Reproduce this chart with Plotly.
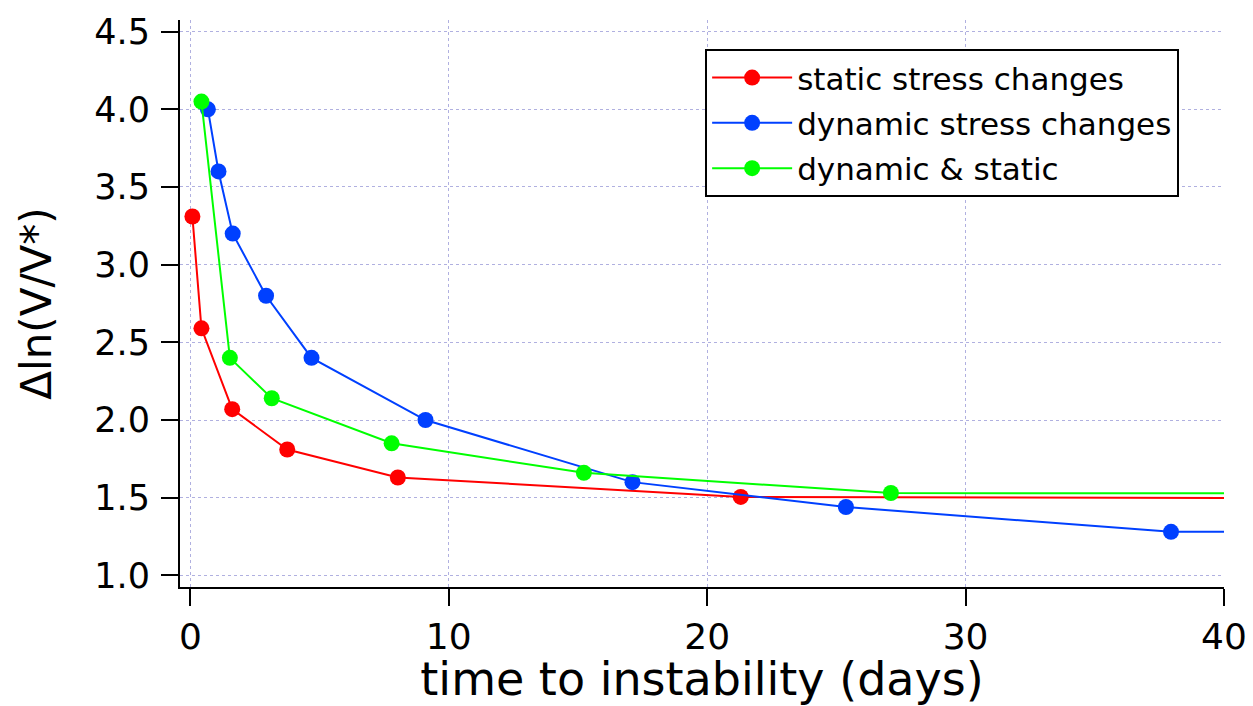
import plotly.graph_objects as go

# ---- data ----
static_x = [0.08, 0.43, 1.62, 3.75, 8.03, 21.3, 60.0]
static_y = [3.31, 2.59, 2.07, 1.81, 1.63, 1.505, 1.49]

dynamic_x = [0.68, 1.09, 1.64, 2.93, 4.69, 9.10, 17.11, 25.37, 37.95, 60.0]
dynamic_y = [4.00, 3.60, 3.20, 2.80, 2.40, 2.00, 1.60, 1.44, 1.28, 1.28]

both_x = [0.43, 1.53, 3.15, 7.79, 15.23, 27.11, 60.0]
both_y = [4.05, 2.40, 2.14, 1.85, 1.66, 1.53, 1.525]

series_names = ["static stress changes", "dynamic stress changes", "dynamic & static"]
series_colors = ["#FF0000", "#0040FF", "#00FF00"]

x_ticks = [0, 10, 20, 30, 40]
y_ticks = [1.0, 1.5, 2.0, 2.5, 3.0, 3.5, 4.0, 4.5]
y_tick_labels = ["1.0", "1.5", "2.0", "2.5", "3.0", "3.5", "4.0", "4.5"]

FONT = "DejaVu Sans"

fig = go.Figure()
for i, (xs, ys, name, col) in enumerate(zip([static_x, dynamic_x, both_x],
                                            [static_y, dynamic_y, both_y],
                                            series_names, series_colors)):
    fig.add_trace(go.Scatter(
        x=xs, y=ys, name=name, mode="lines+markers",
        legendgroup=f"g{i}",
        line=dict(color=col, width=2),
        marker=dict(color=col, size=16),
        cliponaxis=True,
    ))

grid_col = "#B0B0E0"
fig.update_layout(
    width=1253, height=706,
    margin=dict(l=180, r=29, t=20, b=119),
    paper_bgcolor="white", plot_bgcolor="white",
    font=dict(family=FONT, color="black"),
    showlegend=True,
    legend=dict(
        x=0.503, y=0.949, xanchor="left", yanchor="top",
        bgcolor="white", bordercolor="black", borderwidth=2,
        font=dict(family=FONT, size=31, color="black"),
        itemwidth=80, tracegroupgap=2,
    ),
    xaxis=dict(
        range=[-0.4, 40], automargin=False,
        tickmode="array", tickvals=x_ticks,
        ticks="outside", ticklen=17, tickwidth=2, tickcolor="black",
        showline=True, linecolor="black", linewidth=2,
        showgrid=True, gridcolor=grid_col, gridwidth=1, griddash="dot",
        zeroline=False,
        tickfont=dict(family=FONT, size=36, color="black"),
        title=dict(text="time to instability (days)",
                   font=dict(family=FONT, size=46, color="black"),
                   standoff=0),
    ),
    yaxis=dict(
        range=[0.925, 4.575], automargin=False,
        tickmode="array", tickvals=y_ticks, ticktext=y_tick_labels,
        ticks="outside", ticklen=17, tickwidth=2, tickcolor="black",
        showline=True, linecolor="black", linewidth=2,
        showgrid=True, gridcolor=grid_col, gridwidth=1, griddash="dot",
        zeroline=False,
        tickfont=dict(family=FONT, size=35, color="black"),
        ticklabelstandoff=4,
        title=dict(text="Δln(V/V*)",
                   font=dict(family=FONT, size=42, color="black"),
                   standoff=30),
    ),
)

fig.write_html(
    "out.html",
    config={"displayModeBar": False},
    post_script="document.body.style.margin='0';document.body.style.overflow='hidden';",
)
